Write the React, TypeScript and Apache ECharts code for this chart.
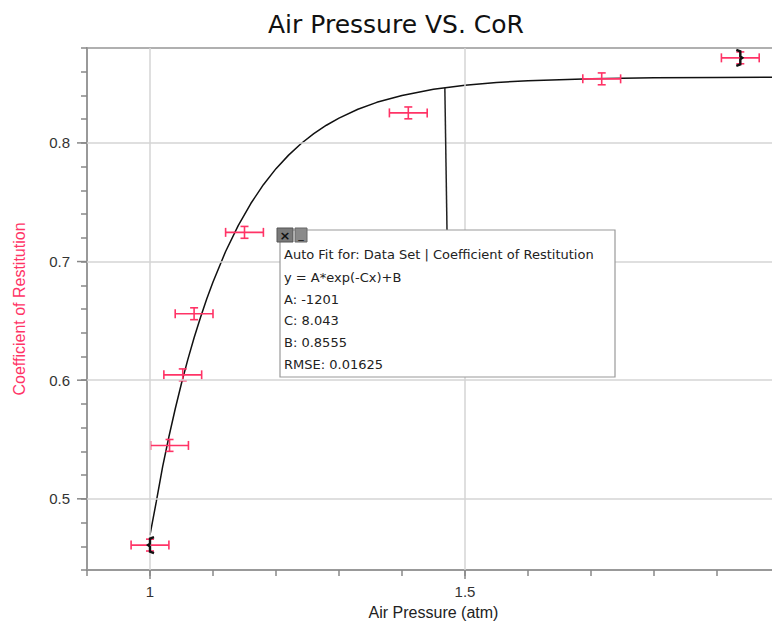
import React, { useEffect, useRef } from 'react';
import * as echarts from 'echarts';

const pressure = [1.0, 1.031, 1.052, 1.07, 1.15, 1.41, 1.717, 1.937];
const restitution = [0.461, 0.545, 0.6045, 0.656, 0.7246, 0.8253, 0.854, 0.8717];
const pressureErr = [0.03, 0.03, 0.03, 0.03, 0.03, 0.03, 0.03, 0.03];
const restitutionErr = [0.005, 0.005, 0.005, 0.005, 0.005, 0.005, 0.005, 0.005];

// Fitted curve as drawn in the picture
const fitX = [
  1.0, 1.01, 1.02, 1.03, 1.04, 1.05, 1.06, 1.07, 1.08, 1.09, 1.1, 1.12, 1.14, 1.16, 1.18, 1.2,
  1.22, 1.24, 1.26, 1.28, 1.3, 1.33, 1.36, 1.4, 1.45, 1.5, 1.55, 1.6, 1.7, 1.8, 1.9, 2.0,
];
const fitY = [
  0.4696, 0.4976, 0.5269, 0.5523, 0.5757, 0.5974, 0.6173, 0.6357, 0.6527, 0.6684, 0.6828, 0.7085,
  0.7303, 0.7489, 0.7648, 0.7783, 0.7897, 0.7995, 0.8078, 0.8149, 0.8209, 0.8284, 0.8342, 0.84,
  0.8452, 0.8486, 0.8509, 0.8524, 0.8541, 0.8549, 0.8552, 0.8554,
];

// Fit range end markers (indices into the data) and their side
const fitRangeIdx = [0, 7];
const fitRangeSide = [-1, 1];

const xMajorTicks = [1, 1.5, 2];
const yMajorTicks = [0.5, 0.6, 0.7, 0.8];

const fitBoxLines = [
  'Auto Fit for: Data Set | Coefficient of Restitution',
  'y = A*exp(-Cx)+B',
  'A: -1201',
  'C: 8.043',
  'B: 0.8555',
  'RMSE: 0.01625',
];
const annotationPoint = [1.468, 0.8466];

const TITLE = 'Air Pressure VS. CoR';
const RED = '#ff3366';
const AXIS_FONT = 'Liberation Sans, Arial, sans-serif';

const isMajor = (v: number, list: number[]) => list.some((m) => Math.abs(m - v) < 1e-6);

export default function App() {
  const ref = useRef<HTMLDivElement>(null);

  useEffect(() => {
    if (!ref.current) return;
    const chart = echarts.init(ref.current, null, { renderer: 'svg' });

    const option: any = {
      animation: false,
      backgroundColor: '#ffffff',
      grid: {
        left: 87,
        top: 48,
        right: -8,
        bottom: 57,
        containLabel: false,
        outerBoundsMode: 'none',
        show: true,
        borderColor: '#b0b0b0',
        borderWidth: 2,
        backgroundColor: 'transparent',
      },
      xAxis: {
        type: 'value',
        min: 0.9,
        max: 2.0,
        interval: 0.1,
        name: 'Air Pressure (atm)',
        nameLocation: 'middle',
        nameGap: 34,
        nameTextStyle: { fontFamily: AXIS_FONT, fontSize: 16, color: '#222' },
        axisLine: { show: true, onZero: false, lineStyle: { color: '#999', width: 2 } },
        axisTick: { show: true, length: 6, lineStyle: { color: '#888', width: 1.5 } },
        axisLabel: {
          fontFamily: AXIS_FONT,
          fontSize: 15,
          color: '#333',
          margin: 14,
          formatter: (v: number) => (isMajor(v, xMajorTicks) ? String(Math.round(v * 10) / 10) : ''),
        },
        splitLine: { show: false },
      },
      yAxis: {
        type: 'value',
        min: 0.44,
        max: 0.88,
        interval: 0.02,
        name: 'Coefficient of Restitution',
        nameLocation: 'middle',
        nameGap: 60,
        nameTextStyle: { fontFamily: AXIS_FONT, fontSize: 16, color: RED },
        axisLine: { show: true, onZero: false, lineStyle: { color: '#999', width: 2 } },
        axisTick: { show: true, length: 6, lineStyle: { color: '#888', width: 1.5 } },
        axisLabel: {
          fontFamily: AXIS_FONT,
          fontSize: 15,
          color: '#333',
          margin: 17,
          formatter: (v: number) => (isMajor(v, yMajorTicks) ? String(Math.round(v * 10) / 10) : ''),
        },
        splitLine: { show: false },
      },
      series: [
        {
          type: 'line',
          data: [],
          z: 1,
          silent: true,
          markLine: {
            silent: true,
            symbol: ['none', 'none'],
            label: { show: false },
            lineStyle: { color: '#d4d4d4', width: 1.5, type: 'solid' },
            data: [
              ...xMajorTicks.map((v) => ({ xAxis: v })),
              ...yMajorTicks.map((v) => ({ yAxis: v })),
            ],
          },
        },
        {
          type: 'line',
          z: 3,
          data: fitX.map((x, i) => [x, fitY[i]]),
          showSymbol: false,
          symbol: 'none',
          smooth: false,
          lineStyle: { color: '#111', width: 1.5 },
        },
        {
          type: 'custom',
          z: 4,
          data: pressure.map((x, i) => [x, restitution[i], pressureErr[i], restitutionErr[i]]),
          encode: { x: 0, y: 1 },
          renderItem: (_params: any, api: any) => {
            const x = api.value(0);
            const y = api.value(1);
            const ex = api.value(2);
            const ey = api.value(3);
            const l = api.coord([x - ex, y]);
            const r = api.coord([x + ex, y]);
            const t = api.coord([x, y + ey]);
            const b = api.coord([x, y - ey]);
            const cap = 4.5;
            const vcap = 4;
            const style = { stroke: RED, lineWidth: 1.6, fill: 'none' };
            return {
              type: 'group',
              children: [
                { type: 'line', shape: { x1: l[0], y1: l[1], x2: r[0], y2: r[1] }, style },
                { type: 'line', shape: { x1: l[0], y1: l[1] - cap, x2: l[0], y2: l[1] + cap }, style },
                { type: 'line', shape: { x1: r[0], y1: r[1] - cap, x2: r[0], y2: r[1] + cap }, style },
                { type: 'line', shape: { x1: t[0], y1: t[1], x2: b[0], y2: b[1] }, style },
                { type: 'line', shape: { x1: t[0] - vcap, y1: t[1], x2: t[0] + vcap, y2: t[1] }, style },
                { type: 'line', shape: { x1: b[0] - vcap, y1: b[1], x2: b[0] + vcap, y2: b[1] }, style },
              ],
            };
          },
        },
        {
          type: 'custom',
          z: 5,
          data: fitRangeIdx.map((idx, i) => [pressure[idx], restitution[idx], fitRangeSide[i]]),
          encode: { x: 0, y: 1 },
          renderItem: (_params: any, api: any) => {
            const c = api.coord([api.value(0), api.value(1)]);
            const s = api.value(2);
            const h = 8;
            const cx = c[0];
            const cy = c[1];
            return {
              type: 'polyline',
              shape: {
                points: [
                  [cx - 4 * s, cy - h],
                  [cx, cy - h + 1.5],
                  [cx, cy - 1.5],
                  [cx + 2 * s, cy],
                  [cx, cy + 1.5],
                  [cx, cy + h - 1.5],
                  [cx - 4 * s, cy + h],
                ],
              },
              style: { stroke: '#111', lineWidth: 2.4, fill: 'none' },
            };
          },
        },
      ],
    };

    chart.setOption(option);

    const px = (p: number[]) => chart.convertToPixel({ gridIndex: 0 } as any, p) as number[];
    const graphics: any[] = [];

    // Title
    graphics.push({
      type: 'text',
      x: 396,
      y: 24,
      style: {
        text: TITLE,
        align: 'center',
        verticalAlign: 'middle',
        fontFamily: 'DejaVu Sans, sans-serif',
        fontSize: 25,
        fill: '#111',
      },
    });

    // Longer major ticks
    xMajorTicks.forEach((v) => {
      const p = px([v, 0.44]);
      graphics.push({
        type: 'line',
        shape: { x1: p[0], y1: p[1], x2: p[0], y2: p[1] + 9 },
        style: { stroke: '#888', lineWidth: 1.5 },
      });
    });
    yMajorTicks.forEach((v) => {
      const p = px([0.9, v]);
      graphics.push({
        type: 'line',
        shape: { x1: p[0] - 10, y1: p[1], x2: p[0], y2: p[1] },
        style: { stroke: '#888', lineWidth: 1.5 },
      });
    });

    // Annotation leader line from curve to the fit box
    const ap = px(annotationPoint);
    graphics.push({
      type: 'line',
      z: 10,
      shape: { x1: ap[0], y1: ap[1], x2: 447, y2: 230 },
      style: { stroke: '#222', lineWidth: 1.5 },
    });

    // Fit box
    graphics.push({
      type: 'rect',
      z: 20,
      shape: { x: 280, y: 230, width: 335, height: 147 },
      style: { fill: '#ffffff', stroke: '#9a9a9a', lineWidth: 1.2 },
    });
    graphics.push({
      type: 'rect',
      z: 21,
      shape: { x: 277, y: 228, width: 16, height: 14 },
      style: { fill: '#7a7a7a', stroke: '#555', lineWidth: 1 },
    });
    graphics.push({
      type: 'text',
      z: 22,
      x: 285,
      y: 235,
      style: { text: '×', align: 'center', verticalAlign: 'middle', fontFamily: 'DejaVu Sans', fontSize: 13, fontWeight: 'bold', fill: '#111' },
    });
    graphics.push({
      type: 'rect',
      z: 21,
      shape: { x: 295, y: 228, width: 12, height: 14 },
      style: { fill: '#8a8a8a', stroke: '#666', lineWidth: 1 },
    });
    graphics.push({
      type: 'text',
      z: 22,
      x: 301,
      y: 234,
      style: { text: '_', align: 'center', verticalAlign: 'middle', fontFamily: 'DejaVu Sans', fontSize: 11, fill: '#111' },
    });
    const lineYs = [254, 277, 299, 320, 342, 364];
    fitBoxLines.forEach((t, i) => {
      graphics.push({
        type: 'text',
        z: 22,
        x: 284,
        y: lineYs[i],
        style: {
          text: t,
          align: 'left',
          verticalAlign: 'middle',
          fontFamily: 'DejaVu Sans, sans-serif',
          fontSize: 13,
          fill: '#222',
        },
      });
    });

    chart.setOption({ graphic: graphics });

    return () => chart.dispose();
  }, []);

  return (
    <div
      ref={ref}
      style={{ position: 'absolute', left: 0, top: 0, width: 772, height: 627, background: '#fff' }}
    />
  );
}
